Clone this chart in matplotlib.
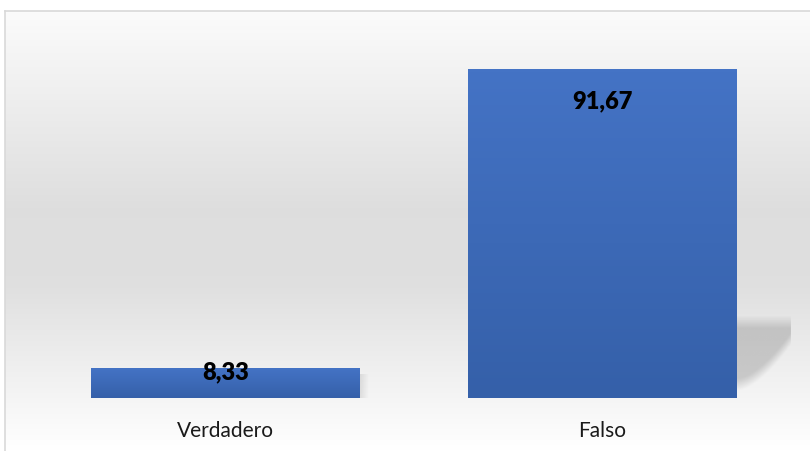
import numpy as np
import matplotlib.pyplot as plt
from matplotlib.colors import LinearSegmentedColormap

categorias = ['Verdadero', 'Falso']
valores = [8.33, 91.67]
etiquetas = ['8,33', '91,67']

plt.rcParams['font.family'] = ['Lato', 'DejaVu Sans']

fig = plt.figure(figsize=(8.10, 4.52), dpi=100)
fig.patch.set_facecolor('white')

# fondo con degradado (blanco -> gris -> blanco)
bg = fig.add_axes([5 / 810, 0, 1 - 5 / 810, 1 - 12 / 452], zorder=0)
t = np.linspace(0, 1, 300)
grad = np.interp(t, [0, 0.45, 0.62, 1.0], [0.985, 0.87, 0.875, 1.0])
bg.imshow(grad[:, None, None] * np.ones((1, 1, 3)), aspect='auto', extent=[0, 1, 0, 1])
bg.set_xlim(0, 1)
bg.set_ylim(0, 1)
bg.set_xticks([])
bg.set_yticks([])
for s in ['bottom', 'right']:
    bg.spines[s].set_visible(False)
for s in ['top', 'left']:
    bg.spines[s].set_color('#d9d9d9')
    bg.spines[s].set_linewidth(1.2)

ax = fig.add_axes([37.5 / 810, 1 - 399 / 452, 753 / 810, 358 / 452], zorder=1)
ax.patch.set_alpha(0)
ax.set_xlim(-0.5, 1.5)
ax.set_ylim(0, 100)

ancho = 0.714
x = np.arange(len(categorias))
barras = ax.bar(x, valores, width=ancho, color='none', zorder=3)

cmap_barra = LinearSegmentedColormap.from_list('barra', ['#3560a9', '#4473c5'])
for i, b in enumerate(barras):
    x0, y0, w, h = b.get_x(), b.get_y(), b.get_width(), b.get_height()
    # sombra en perspectiva
    if h > 30:
        sw, sh = w * 0.21, h * 0.25
        nx, ny = 60, 60
        xx, yy = np.meshgrid(np.linspace(0, 1, nx), np.linspace(0, 1, ny))
        borde = 0.08 + 0.6 * xx ** 1.6
        a = np.clip((yy - borde) / 0.15, 0, 1) * np.clip((1 - yy) / 0.15, 0, 1)
        a *= np.clip((1 - xx) / 0.04, 0, 1)
        img = np.zeros((ny, nx, 4))
        img[..., :3] = 0.55
        img[..., 3] = a * 0.4
        ax.imshow(img, origin='lower', aspect='auto', zorder=2,
                  extent=[x0 + w, x0 + w + sw, 0, sh], interpolation='bilinear')
    else:
        sw = w * 0.03
        img = np.zeros((2, 20, 4))
        img[..., :3] = 0.6
        img[..., 3] = np.linspace(0.25, 0, 20)[None, :]
        ax.imshow(img, origin='lower', aspect='auto', zorder=2,
                  extent=[x0 + w, x0 + w + sw, 0, h * 0.8], interpolation='bilinear')
    gv = np.linspace(0, 1, 100)[:, None]
    ax.imshow(gv, cmap=cmap_barra, origin='lower', aspect='auto', zorder=3,
              extent=[x0, x0 + w, y0, y0 + h], vmin=0, vmax=1)

ax.set_xlim(-0.5, 1.5)
ax.set_ylim(0, 100)

for i, v in enumerate(valores):
    desp = -22 if v > 30 else -2.5
    ax.annotate(etiquetas[i], (x[i], v), xytext=(0, desp), textcoords='offset points',
                ha='center', va='center', fontsize=17, fontweight='heavy', color='black', zorder=5)

ax.set_xticks(x)
ax.set_xticklabels(categorias, fontsize=15, color='#1a1a1a')
ax.tick_params(axis='x', length=0, pad=16)
ax.set_yticks([])
for s in ax.spines.values():
    s.set_visible(False)

fig.savefig('out.png', dpi=100, facecolor=fig.get_facecolor())
